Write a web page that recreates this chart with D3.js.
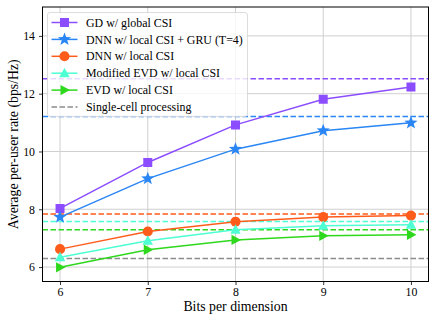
<!DOCTYPE html>
<html>
  <head>
    <meta charset="utf-8">
    <title>Average per-user rate vs bits per dimension</title>
    <script src="https://d3js.org/d3.v7.min.js"></script>
    <style>
      body { margin: 0; background: #fff; }
    </style>
  </head>
  <body>
    <svg id="chart" width="436" height="323"></svg>
    <script>
      // data
      var bits = [6, 7, 8, 9, 10];
      var gdGlobal = [8.03, 9.62, 10.92, 11.81, 12.23];
      var dnnGru = [7.73, 9.06, 10.08, 10.72, 10.99];
      var dnnLocal = [6.62, 7.23, 7.57, 7.73, 7.78];
      var modEvd = [6.34, 6.91, 7.29, 7.43, 7.46];
      var evdLocal = [5.99, 6.60, 6.94, 7.08, 7.12];
      // dashed reference levels
      var refLevels = [12.52, 11.21, 7.84, 7.58, 7.29];
      var singleCell = 6.30;
      var xTicks = [6, 7, 8, 9, 10];
      var yTicks = [6, 8, 10, 12, 14];

      var series = [
        { name: "GD w/ global CSI", values: gdGlobal, color: "#8c4dff", marker: "square", ref: refLevels[0] },
        { name: "DNN w/ local CSI + GRU (T=4)", values: dnnGru, color: "#2a86f4", marker: "star", ref: refLevels[1] },
        { name: "DNN w/ local CSI", values: dnnLocal, color: "#ff5c1c", marker: "circle", ref: refLevels[2] },
        { name: "Modified EVD w/ local CSI", values: modEvd, color: "#4dffd2", marker: "triangle", ref: refLevels[3] },
        { name: "EVD w/ local CSI", values: evdLocal, color: "#2ed81c", marker: "right", ref: refLevels[4] }
      ];

      var serif = "'Liberation Serif'";
      var svg = d3.select("#chart");
      var margin = { top: 7, right: 7.5, bottom: 41.5, left: 42.5 };
      var width = 436 - margin.left - margin.right;
      var height = 323 - margin.top - margin.bottom;

      var x = d3.scaleLinear().domain([5.8, 10.2]).range([0, width]);
      var y = d3.scaleLinear().domain([5.5, 15]).range([height, 0]);

      var g = svg.append("g")
        .attr("transform", "translate(" + margin.left + "," + margin.top + ")");

      g.append("defs").append("clipPath").attr("id", "clip")
        .append("rect").attr("width", width).attr("height", height);

      // grid
      g.append("g").selectAll("line").data(xTicks).enter().append("line")
        .attr("x1", function(d) { return x(d); }).attr("x2", function(d) { return x(d); })
        .attr("y1", 0).attr("y2", height)
        .attr("stroke", "#cfcfcf").attr("stroke-width", 1);
      g.append("g").selectAll("line").data(yTicks).enter().append("line")
        .attr("y1", function(d) { return y(d); }).attr("y2", function(d) { return y(d); })
        .attr("x1", 0).attr("x2", width)
        .attr("stroke", "#cfcfcf").attr("stroke-width", 1);

      var plot = g.append("g").attr("clip-path", "url(#clip)");

      // dashed reference lines
      series.forEach(function(s) {
        plot.append("line")
          .attr("x1", 0).attr("x2", width)
          .attr("y1", y(s.ref)).attr("y2", y(s.ref))
          .attr("stroke", s.color).attr("stroke-width", 1.5)
          .attr("stroke-dasharray", "5.5,2.5");
      });
      plot.append("line")
        .attr("x1", 0).attr("x2", width)
        .attr("y1", y(singleCell)).attr("y2", y(singleCell))
        .attr("stroke", "#8c8c8c").attr("stroke-width", 1.5)
        .attr("stroke-dasharray", "5.5,2.5");

      // marker shapes
      function markerPath(type) {
        if (type == "square") return "M-4.5,-4.5H4.5V4.5H-4.5Z";
        if (type == "circle") return d3.symbol(d3.symbolCircle, 80)();
        if (type == "star") {
          var pts = [];
          for (var i = 0; i < 10; i++) {
            var r = i % 2 == 0 ? 7 : 2.9;
            var a = -Math.PI / 2 + i * Math.PI / 5;
            pts.push([r * Math.cos(a), r * Math.sin(a)]);
          }
          return "M" + pts.join("L") + "Z";
        }
        if (type == "triangle") return "M0,-5.5L5.2,4L-5.2,4Z";
        if (type == "right") return "M5.5,0L-4,5.2L-4,-5.2Z";
      }

      var line = d3.line()
        .x(function(d, i) { return x(bits[i]); })
        .y(function(d) { return y(d); });

      series.forEach(function(s) {
        plot.append("path")
          .attr("d", line(s.values))
          .attr("fill", "none").attr("stroke", s.color).attr("stroke-width", 1.5);
        plot.selectAll(null).data(s.values).enter().append("path")
          .attr("d", markerPath(s.marker))
          .attr("transform", function(d, i) { return "translate(" + x(bits[i]) + "," + y(d) + ")"; })
          .attr("fill", s.color);
      });

      // axes
      var xAxis = g.append("g")
        .attr("transform", "translate(0," + height + ")")
        .call(d3.axisBottom(x).tickValues(xTicks).tickFormat(d3.format("d")).tickSize(3.5).tickPadding(2.6));
      var yAxis = g.append("g")
        .call(d3.axisLeft(y).tickValues(yTicks).tickFormat(d3.format("d")).tickSize(3.5).tickPadding(4));
      [xAxis, yAxis].forEach(function(a) {
        a.attr("font-family", null).attr("font-size", null);
        a.select(".domain").remove();
        a.selectAll("text").style("font-size", "11.8px").style("font-family", serif).attr("fill", "#000");
        a.selectAll("line").attr("stroke", "#000").attr("stroke-width", 0.8);
      });

      // frame
      g.append("rect")
        .attr("width", width).attr("height", height)
        .attr("fill", "none").attr("stroke", "#000").attr("stroke-width", 1);

      // axis labels
      svg.append("text")
        .attr("x", margin.left + width / 2).attr("y", 311)
        .attr("text-anchor", "middle")
        .style("font-size", "13.8px")
        .style("font-family", serif)
        .text("Bits per dimension");
      svg.append("text")
        .attr("transform", "translate(18," + (margin.top + height / 2) + ") rotate(-90)")
        .attr("text-anchor", "middle")
        .style("font-size", "13.8px")
        .style("font-family", serif)
        .text("Average per-user rate (bps/Hz)");

      // legend
      var legend = g.append("g").attr("transform", "translate(5,5.5)");
      legend.append("rect")
        .attr("width", 200).attr("height", 104).attr("rx", 2.5)
        .attr("fill", "rgba(255,255,255,0.8)")
        .attr("stroke", "#d4d4d4").attr("stroke-width", 0.8);
      var items = series.map(function(s) { return { name: s.name, color: s.color, marker: s.marker, dash: false }; });
      items.push({ name: "Single-cell processing", color: "#8c8c8c", marker: null, dash: true });
      items.forEach(function(d, i) {
        var row = legend.append("g").attr("transform", "translate(0," + (10 + i * 16.9) + ")");
        row.append("line")
          .attr("x1", 4).attr("x2", 30)
          .attr("stroke", d.color).attr("stroke-width", 1.5)
          .attr("stroke-dasharray", d.dash ? "5.5,2.5" : null);
        if (d.marker) {
          row.append("path")
            .attr("d", markerPath(d.marker))
            .attr("transform", "translate(17,0)")
            .attr("fill", d.color);
        }
        row.append("text")
          .attr("x", 38.5).attr("dy", "0.35em")
          .style("font-size", "11.9px")
          .style("font-family", serif)
          .text(d.name);
      });
    </script>
  </body>
</html>
